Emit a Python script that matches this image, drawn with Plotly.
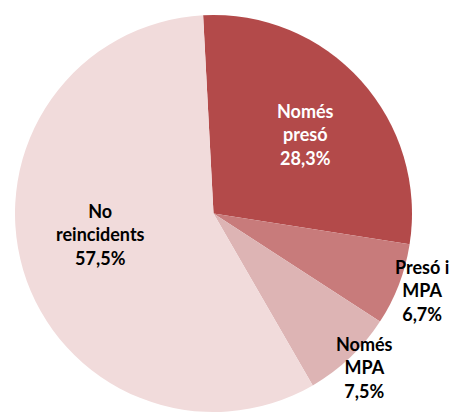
import plotly.graph_objects as go

categories = ["Només presó", "Presó i MPA", "Només MPA", "No reincidents"]
label_lines = ["Només<br>presó", "Presó i<br>MPA", "Només<br>MPA", "No<br>reincidents"]
values = [28.3, 6.7, 7.5, 57.5]
colors = ["#B34A4A", "#C87B7B", "#DDB4B4", "#F1DBDB"]
text_colors = ["white", "black", "black", "black"]

# the page body has an 8px default margin; the figure is sized to fill the rest
OFF = 8
W, H = 459 - OFF, 412 - OFF
# label centres in window pixels (layout only)
label_px = [(305, 134), (422, 290), (364, 367), (100, 234)]

fig = go.Figure(go.Pie(
    labels=categories,
    values=values,
    sort=False,
    direction="clockwise",
    rotation=-3,
    marker=dict(colors=colors, line=dict(width=0)),
    textinfo="none",
    hoverinfo="label+percent",
    showlegend=False,
    domain=dict(x=[(12 - OFF) / W, (415 - OFF) / W], y=[0, 1 - (15 - OFF) / H]),
))

for lab, v, tc, (px, py) in zip(label_lines, values, text_colors, label_px):
    fig.add_annotation(
        x=(px - OFF) / W, y=1 - (py - OFF) / H, xref="paper", yref="paper",
        text=f"{lab}<br>{v:.1f}%".replace(".", ","),
        showarrow=False, xanchor="center", yanchor="middle",
        font=dict(family="Lato", size=18, color=tc, weight="bold"),
        align="center",
    )

fig.update_layout(
    width=W, height=H,
    margin=dict(l=0, r=0, t=0, b=0),
    paper_bgcolor="white",
    plot_bgcolor="white",
)

fig.write_html("out.html")
